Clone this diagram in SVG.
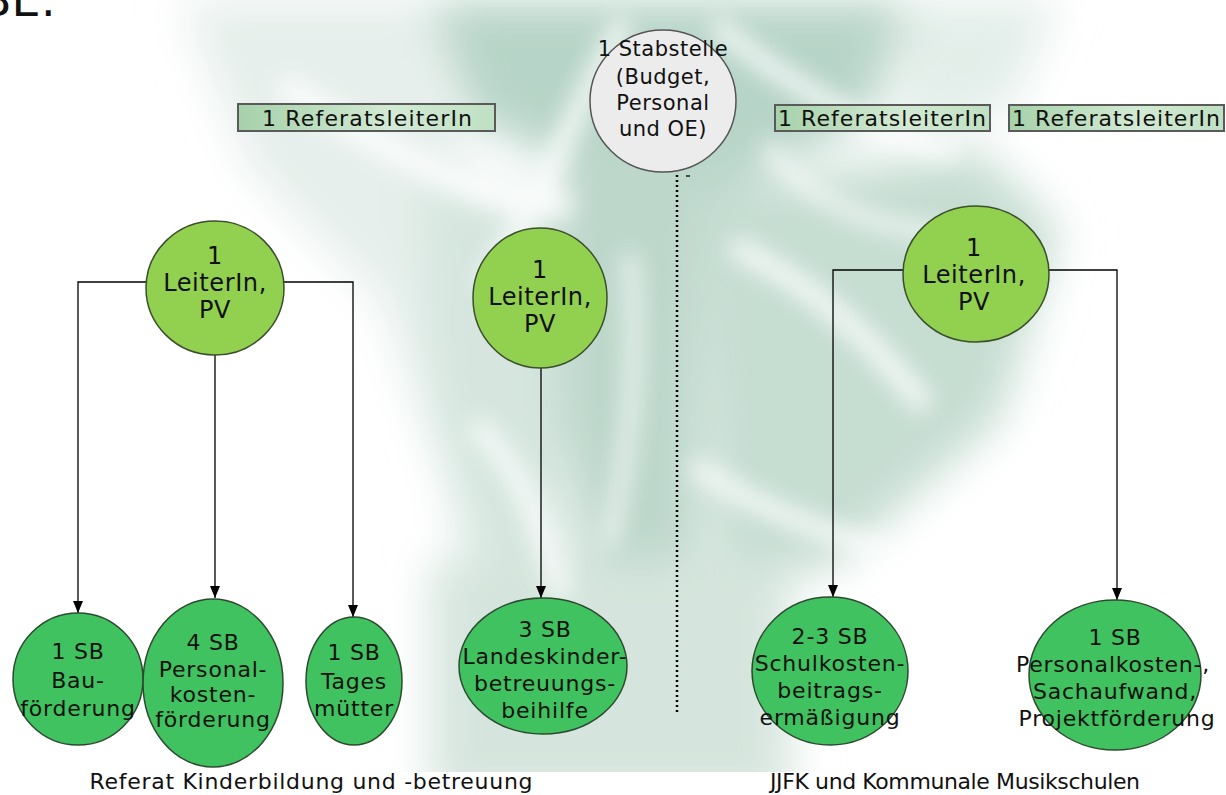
<svg xmlns="http://www.w3.org/2000/svg" width="1226" height="795" viewBox="0 0 1226 795">
<defs>
  <style>
    .t { font-family: "DejaVu Sans", Verdana, sans-serif; fill: #111; text-anchor: middle; }
    .lead ellipse { fill: #92d050; stroke: #3b4f2c; stroke-width: 1.5; }
    .sb ellipse { fill: #3fc25f; stroke: #2d4a30; stroke-width: 1.5; }
    .lead text { font-size: 24px; letter-spacing: 0.6px; }
    .sb text { font-size: 22px; letter-spacing: 0.8px; }
    .stab ellipse { fill: #ececec; stroke: #555; stroke-width: 1.5; }
    .stab text { font-size: 21px; letter-spacing: 0.5px; }
    .box rect { fill: url(#boxGrad); stroke: #5a5a5a; stroke-width: 2; }
    .box text { font-size: 22px; }
    .conn line, .conn polyline { stroke: #000; stroke-width: 1.3; fill: none; }
    .label { font-size: 22px; }
  </style>
  <filter id="blurL" x="-40%" y="-40%" width="180%" height="180%"><feGaussianBlur stdDeviation="22"/></filter>
  <filter id="blurS" x="-40%" y="-40%" width="180%" height="180%"><feGaussianBlur stdDeviation="11"/></filter>
  <clipPath id="wmClip"><rect x="130" y="0" width="990" height="772"/></clipPath>
  <linearGradient id="boxGrad" x1="0" y1="0" x2="1" y2="0">
    <stop offset="0" stop-color="#a6d1aa"/>
    <stop offset="0.6" stop-color="#d3ead4"/>
    <stop offset="1" stop-color="#bfe0c2"/>
  </linearGradient>
  <marker id="arrow" viewBox="0 0 12 10" refX="12" refY="5" markerWidth="12" markerHeight="10" markerUnits="userSpaceOnUse" orient="auto">
    <path d="M0,0 L12,5 L0,10 z" fill="#000"/>
  </marker>
</defs>

<rect width="1226" height="795" fill="#ffffff"/>

<!-- watermark background -->
<g id="watermark" clip-path="url(#wmClip)">
  <g filter="url(#blurL)">
    <path d="M180,0 L430,0 L480,220 L440,460 L380,300 L250,170 Z" fill="#e6efeb"/>
    <path d="M430,0 L910,0 L870,120 L720,190 L600,180 L470,120 Z" fill="#b7d4c8"/>
    <path d="M900,0 L1060,0 L1010,110 L900,140 Z" fill="#e3eee9"/>
    <path d="M560,140 L700,140 L700,600 L600,640 L555,400 Z" fill="#bdd7cb"/>
    <path d="M700,190 L980,150 L1060,230 L1000,420 L830,570 L715,570 Z" fill="#c6ddd2"/>
    <path d="M420,180 L560,200 L560,560 L470,560 L430,420 Z" fill="#d6e6df"/>
    <path d="M430,560 L790,560 L790,800 L430,800 Z" fill="#d5e5dd"/>
  </g>
  <g filter="url(#blurS)" stroke="#ffffff" fill="none" stroke-linecap="round" opacity="0.8">
    <path d="M290,90 C390,150 470,200 560,205" stroke-width="26"/>
    <path d="M620,30 C570,120 540,200 490,280" stroke-width="22"/>
    <path d="M720,30 C800,90 880,140 950,150" stroke-width="20"/>
    <path d="M740,250 C820,290 870,340 920,400" stroke-width="22"/>
    <path d="M700,470 C760,510 820,530 880,550" stroke-width="20"/>
    <path d="M630,260 C640,350 630,450 610,540" stroke-width="14"/>
    <path d="M480,430 C520,470 540,520 560,590" stroke-width="20"/>
    <path d="M770,150 C810,200 860,225 950,235" stroke-width="14"/>
  </g>
</g>

<!-- partial heading at top-left -->
<text x="-20" y="16" style="font-family:'DejaVu Sans',sans-serif;font-size:46px;fill:#111;">BE:</text>

<!-- connectors -->
<g id="connectors" class="conn">
  <polyline points="150,282 78,282 78,613" marker-end="url(#arrow)"/>
  <polyline points="284,282 353,282 353,617" marker-end="url(#arrow)"/>
  <line x1="215" y1="354" x2="215" y2="598" marker-end="url(#arrow)"/>
  <line x1="541" y1="368" x2="541" y2="598" marker-end="url(#arrow)"/>
  <polyline points="903,270 833,270 833,597" marker-end="url(#arrow)"/>
  <polyline points="1049,270 1117,270 1117,600" marker-end="url(#arrow)"/>
  <line x1="677" y1="175" x2="677" y2="712" style="stroke-width:2.5;stroke-dasharray:2 3;"/>
  <line x1="686" y1="176" x2="690" y2="176"/>
</g>

<!-- boxes -->
<g id="ref1" class="box">
  <rect x="238" y="104" width="257" height="27"/>
  <text class="t" x="367" y="126" textLength="210">1 ReferatsleiterIn</text>
</g>
<g id="ref2" class="box">
  <rect x="775" y="105" width="215" height="26"/>
  <text class="t" x="882" y="126" textLength="208">1 ReferatsleiterIn</text>
</g>
<g id="ref3" class="box">
  <rect x="1009" y="105" width="215" height="26"/>
  <text class="t" x="1116" y="126" textLength="208">1 ReferatsleiterIn</text>
</g>

<!-- Stabstelle -->
<g id="stabstelle" class="stab">
  <ellipse cx="663" cy="101" rx="73" ry="71"/>
  <text class="t" x="663" y="56">1 Stabstelle</text>
  <text class="t" x="663" y="84">(Budget,</text>
  <text class="t" x="663" y="110">Personal</text>
  <text class="t" x="663" y="136">und OE)</text>
</g>

<!-- leaders -->
<g id="leiter1" class="lead">
  <ellipse cx="215" cy="288" rx="69" ry="67"/>
  <text class="t" x="215" y="264">1</text>
  <text class="t" x="215" y="291">LeiterIn,</text>
  <text class="t" x="215" y="318">PV</text>
</g>
<g id="leiter2" class="lead">
  <ellipse cx="540" cy="298" rx="67" ry="70"/>
  <text class="t" x="540" y="278">1</text>
  <text class="t" x="540" y="305">LeiterIn,</text>
  <text class="t" x="540" y="332">PV</text>
</g>
<g id="leiter3" class="lead">
  <ellipse cx="976" cy="274" rx="73" ry="68"/>
  <text class="t" x="974" y="256">1</text>
  <text class="t" x="974" y="283">LeiterIn,</text>
  <text class="t" x="974" y="310">PV</text>
</g>

<!-- SB nodes -->
<g id="sb-bau" class="sb">
  <ellipse cx="78" cy="679" rx="65" ry="66"/>
  <text class="t" x="78" y="659">1 SB</text>
  <text class="t" x="78" y="688">Bau-</text>
  <text class="t" x="78" y="716">förderung</text>
</g>
<g id="sb-personal" class="sb">
  <ellipse cx="213" cy="683" rx="70" ry="84"/>
  <text class="t" x="213" y="650">4 SB</text>
  <text class="t" x="213" y="677">Personal-</text>
  <text class="t" x="213" y="702">kosten-</text>
  <text class="t" x="213" y="727">förderung</text>
</g>
<g id="sb-tages" class="sb">
  <ellipse cx="354" cy="681" rx="48" ry="64"/>
  <text class="t" x="354" y="660">1 SB</text>
  <text class="t" x="354" y="689">Tages</text>
  <text class="t" x="354" y="716">mütter</text>
</g>
<g id="sb-landes" class="sb">
  <ellipse cx="543" cy="666" rx="84" ry="68"/>
  <text class="t" x="545" y="637">3 SB</text>
  <text class="t" x="545" y="664">Landeskinder-</text>
  <text class="t" x="545" y="691">betreuungs-</text>
  <text class="t" x="545" y="718">beihilfe</text>
</g>
<g id="sb-schul" class="sb">
  <ellipse cx="830" cy="671" rx="78" ry="74"/>
  <text class="t" x="830" y="644">2-3 SB</text>
  <text class="t" x="830" y="671">Schulkosten-</text>
  <text class="t" x="830" y="698">beitrags-</text>
  <text class="t" x="830" y="725">ermäßigung</text>
</g>
<g id="sb-musik" class="sb">
  <ellipse cx="1115" cy="675" rx="86" ry="75"/>
  <text class="t" x="1115" y="645">1 SB</text>
  <text class="t" x="1113" y="672">Personalkosten-,</text>
  <text class="t" x="1115" y="699">Sachaufwand,</text>
  <text class="t" x="1117" y="726">Projektförderung</text>
</g>

<!-- section labels -->
<g id="labels">
  <text class="t label" x="311" y="789" textLength="443">Referat Kinderbildung und -betreuung</text>
  <text class="t label" x="955" y="789" textLength="370">JJFK und Kommunale Musikschulen</text>
</g>
</svg>
